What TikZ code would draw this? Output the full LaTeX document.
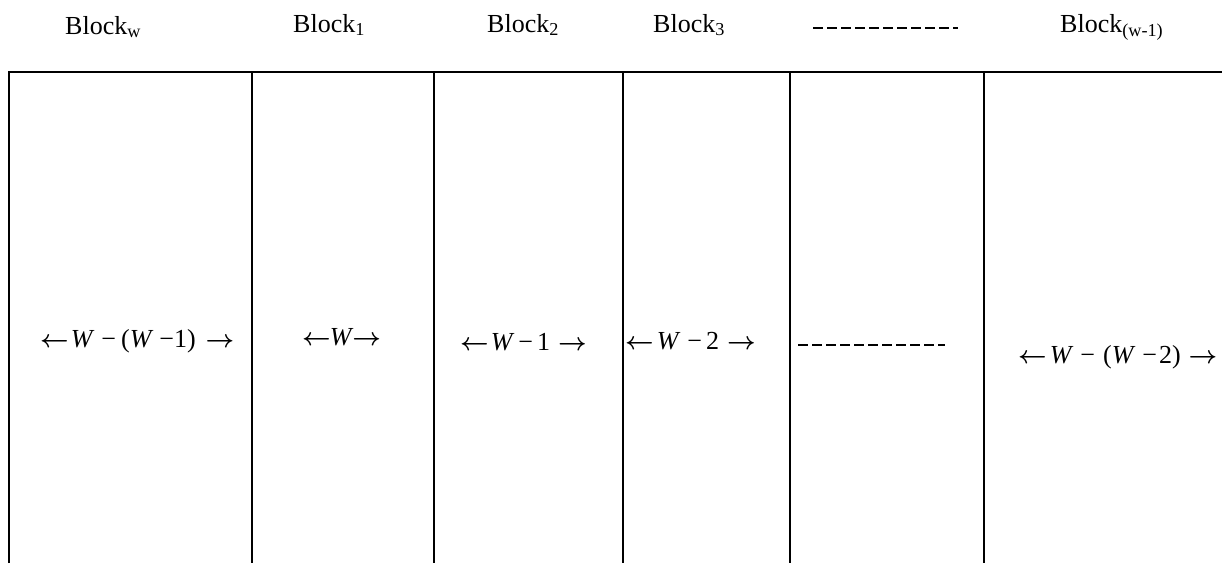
\documentclass[tikz,border=0pt]{standalone}
\usepackage{fontspec}
\setmainfont{Liberation Serif}
\newcommand\lar{{\fontsize{27}{27}\selectfont\boldmath$\leftarrow$}}
\newcommand\rar{{\fontsize{27}{27}\selectfont\boldmath$\rightarrow$}}
\newcommand\hs[1]{\hspace{#1pt}}
\begin{document}
\begin{tikzpicture}[x=1pt,y=-1pt,
  rule/.style={line width=1.6pt},
  dashline/.style={line width=1.4pt, dash pattern=on 10pt off 4pt},
  head/.style={font=\fontsize{26}{30}\selectfont, anchor=base west, inner sep=0pt},
  mid/.style={font=\fontsize{26}{30}\selectfont, anchor=base west, inner sep=0pt}]
\useasboundingbox (0,0) rectangle (1222,563);
% frame
\coordinate (tl) at (9,72);
\coordinate (tr) at (1222,72);
\coordinate (bl) at (9,563);
\draw[rule] (bl) -- (tl) -- (tr);
\foreach \x [count=\i] in {252,434,623,790,984}{
  \coordinate (t\i) at (\x,72);
  \coordinate (b\i) at (\x,563);
  \draw[rule] (t\i) -- (b\i);
}
% headers
\node[head] (hw) at (65,34) {Block\textsubscript{w}};
\node[head] (h1) at (293,32) {Block\textsubscript{1}};
\node[head] (h2) at (487,32) {Block\textsubscript{2}};
\node[head] (h3) at (653,32) {Block\textsubscript{3}};
\coordinate (hd1) at (813,28);
\coordinate (hd2) at (958,28);
\draw[dashline] (hd1) -- (hd2);
\node[head] (hw1) at (1060,32) {Block\textsubscript{(w-1)}};
% middle labels
\node[mid] (mw) at (40,347) {\lar\hs{2}\textit{W}\hs{7}−\hs{5}(\textit{W}\hs{6}−1)\hs{10}\rar};
\node[mid] (m1) at (302,345) {\lar\hs{-1}\textit{W}\hs{-1}\rar};
\node[mid] (m2) at (460,350) {\lar\hs{2}\textit{W}\hs{4}−\hs{4}1\hs{8}\rar};
\node[mid] (m3) at (625,349) {\lar\hs{3}\textit{W}\hs{7}−\hs{4}2\hs{8}\rar};
\coordinate (md1) at (798,345);
\coordinate (md2) at (945,345);
\draw[dashline] (md1) -- (md2);
\node[mid] (mw2) at (1018,363) {\lar\hs{3}\textit{W}\hs{7}−\hs{8}(\textit{W}\hs{7}−\hs{2}2)\hs{8}\rar};
\end{tikzpicture}
\end{document}
